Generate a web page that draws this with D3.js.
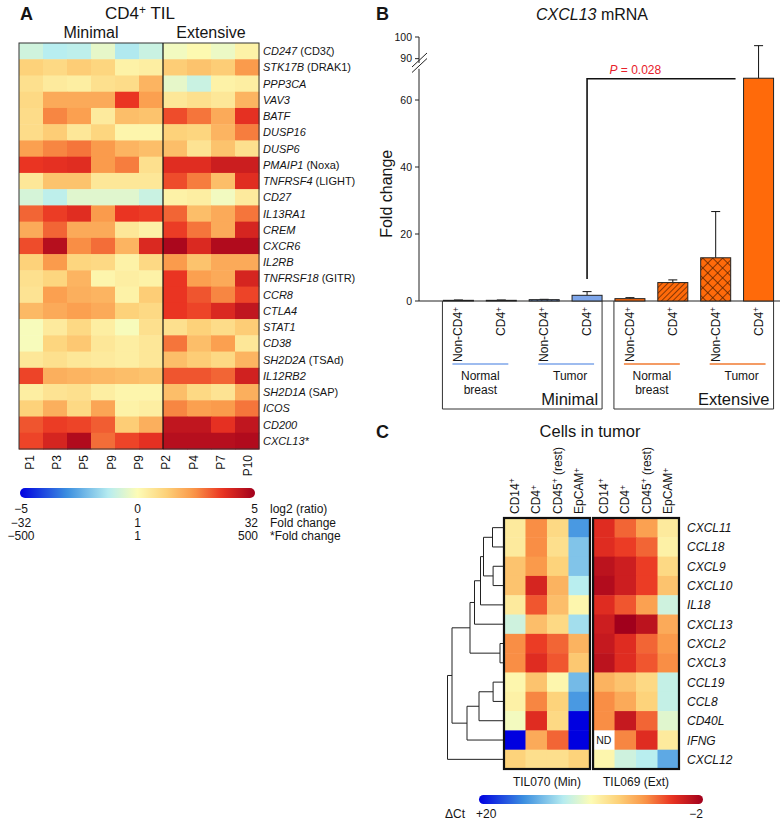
<!DOCTYPE html>
<html lang="en">
<head>
<meta charset="UTF-8" />
<title>CD4 TIL CXCL13</title>
<style>
  body { margin: 0; background: #fff; font-family: "Liberation Sans", Arial, Helvetica, sans-serif; }
  svg { display: block; }
  text { fill: #151515; }
  .it { font-style: italic; }
  .panel { font-size: 18px; font-weight: bold; }
</style>
</head>
<body>
<script src="https://cdn.jsdelivr.net/npm/d3@7/dist/d3.min.js"></script>
<script>
// ---------- panel A: CD4+ TIL log2 ratios ----------
const tilGenes = ["CD247", "STK17B", "PPP3CA", "VAV3", "BATF", "DUSP16", "DUSP6", "PMAIP1",
  "TNFRSF4", "CD27", "IL13RA1", "CREM", "CXCR6", "IL2RB", "TNFRSF18", "CCR8", "CTLA4",
  "STAT1", "CD38", "SH2D2A", "IL12RB2", "SH2D1A", "ICOS", "CD200", "CXCL13*"];
const tilAlias = ["(CD3ζ)", "(DRAK1)", "", "", "", "", "", "(Noxa)", "(LIGHT)", "", "", "", "",
  "", "(GITR)", "", "", "", "", "(TSAd)", "", "(SAP)", "", "", ""];
const tilPatients = ["P1", "P3", "P5", "P9", "P9", "P2", "P4", "P7", "P10"];
const tilGroups = ["Minimal", "Extensive"];
const tilGroupCols = [6, 4];
// 6 minimal columns then 4 extensive columns
const tilLog2 = [
  [-0.8, -1.2, -1.1, -0.4, -1.3, -0.9, -0.2, 0.1, -0.3, 0.3],
  [1.2, 1.0, 1.3, 1.1, 0.3, 0.4, 1.3, 1.5, 1.3, 2.3],
  [0.8, 0.5, 0.4, 0.8, 0.9, 1.8, -0.4, -0.9, 0.3, 0.4],
  [1.0, 2.0, 2.0, 2.0, 3.6, 2.2, 0.6, 0.8, 0.6, 1.8],
  [0.9, 2.6, 2.2, 0.5, 1.6, 1.5, 3.3, 2.8, 2.0, 3.7],
  [0.9, 1.3, 0.6, 1.1, 0.2, 0.2, 1.2, 1.1, 1.8, 2.7],
  [2.2, 2.6, 2.8, 2.3, 1.8, 1.6, 1.6, 0.7, 1.5, 0.8],
  [3.6, 3.7, 3.8, 2.3, 2.7, 0.8, 3.8, 3.8, 4.2, 4.2],
  [0.6, 1.5, 1.5, 0.6, 0.6, 0.6, 3.3, 2.7, 1.6, 3.8],
  [-0.7, -1.1, -0.5, -0.5, -0.5, -0.9, 0.3, 0.4, -0.2, 0.5],
  [3.0, 3.5, 3.8, 2.3, 3.6, 3.5, 3.0, 1.6, 2.0, 2.8],
  [2.0, 3.0, 2.0, 2.0, 0.6, 0.3, 3.5, 2.8, 2.0, 4.0],
  [3.3, 4.6, 2.5, 2.9, 1.8, 3.9, 4.8, 3.9, 4.7, 4.7],
  [1.2, 2.3, 1.1, 1.0, 0.3, 1.0, 2.3, 1.5, 2.0, 2.0],
  [0.8, 1.1, 1.8, 0.2, 0.4, 0.3, 3.6, 2.2, 2.0, 4.0],
  [0.7, 2.2, 1.9, 1.8, 0.3, 1.3, 3.6, 3.2, 2.6, 3.4],
  [1.7, 2.0, 2.2, 2.0, 1.2, 1.0, 3.6, 3.4, 3.9, 4.4],
  [-0.1, 0.5, 1.0, 0.4, -0.1, 0.8, 0.8, 1.2, 0.9, 1.3],
  [-0.1, 1.1, 1.4, 0.6, 0.4, 0.6, 2.8, 1.6, 2.2, 0.6],
  [0.6, 0.8, 0.6, 0.5, 0.4, 0.6, 1.6, 1.3, 1.0, 1.8],
  [3.4, 1.9, 1.8, 1.7, 1.6, 1.5, 3.2, 3.2, 3.0, 4.1],
  [0.4, 0.7, 0.8, 0.4, 0.2, 0.2, 1.6, 1.0, 0.7, 1.9],
  [1.2, 1.9, 1.0, 2.1, 0.3, 0.4, 2.6, 2.2, 2.3, 2.8],
  [3.2, 3.5, 3.4, 3.1, 1.3, 1.9, 4.4, 4.4, 3.7, 4.4],
  [3.4, 4.0, 4.7, 2.9, 3.4, 3.7, 4.6, 4.6, 4.6, 4.7]
];
const tilKeyTicks = [-5, 0, 5];
const tilKeyRows = [["−5", "0", "5"], ["−32", "1", "32"], ["−500", "1", "500"]];
const tilKeyNames = ["log2 (ratio)", "Fold change", "*Fold change"];

// ---------- panel B: CXCL13 mRNA ----------
const mrnaCell = ["Non-CD4+", "CD4+", "Non-CD4+", "CD4+", "Non-CD4+", "CD4+", "Non-CD4+", "CD4+"];
const mrnaTissue = ["Normal breast", "Normal breast", "Tumor", "Tumor", "Normal breast", "Normal breast", "Tumor", "Tumor"];
const mrnaGroup = ["Minimal", "Minimal", "Minimal", "Minimal", "Extensive", "Extensive", "Extensive", "Extensive"];
const mrnaFold = [0.2, 0.2, 0.4, 1.7, 0.7, 5.5, 12.9, 66.5];
const mrnaErr = [0.1, 0.1, 0.1, 1.1, 0.3, 0.8, 13.8, 29.5];
const foldTicksLow = [0, 20, 40, 60];
const foldTicksHigh = [90, 100];
const pText = "0.028";
const pPair = [3, 7];

// ---------- panel C: cells in tumor, ΔCt ----------
const chemoGenes = ["CXCL11", "CCL18", "CXCL9", "CXCL10", "IL18", "CXCL13", "CXCL2", "CXCL3",
  "CCL19", "CCL8", "CD40L", "IFNG", "CXCL12"];
const chemoCells = ["CD14+", "CD4+", "CD45+ (rest)", "EpCAM+"];
const chemoSamples = ["TIL070 (Min)", "TIL069 (Ext)"];
// 4 cells of TIL070 then 4 cells of TIL069; null = not detected
const chemoDct = [
  [7.9, 3.5, 6.8, 15.2, 0.6, 2.4, 4.2, 7.9],
  [7.9, 3.5, 7.2, 13.4, 0.6, 1.3, 2.4, 8.3],
  [5.7, 3.9, 6.4, 13.4, -0.9, -0.2, 1.3, 6.8],
  [5.7, 0.2, 5.0, 11.6, -1.3, -0.2, 1.3, 5.7],
  [7.9, 2.0, 5.5, 8.6, 0.6, 2.0, 4.2, 10.8],
  [10.8, 5.5, 6.8, 12.3, -0.2, -2.0, -0.9, 4.6],
  [3.5, 1.3, 2.4, 5.0, -0.5, 0.6, 2.4, 3.9],
  [3.5, 0.6, 2.0, 5.9, -0.9, 0.6, 2.0, 3.5],
  [8.6, 5.7, 8.6, 13.8, 5.0, 5.7, 6.8, 11.2],
  [8.3, 3.3, 6.4, 15.2, 3.5, 4.6, 6.4, 11.2],
  [9.4, 0.6, 6.8, 20.0, 3.5, -0.5, 2.4, 10.1],
  [20.0, 4.6, 2.4, 20.0, null, 3.3, 0.6, 7.9],
  [6.4, 7.2, 7.2, 6.4, 8.6, 10.8, 11.6, 14.5]
];
// linkage: [childA, childB, height]; ids >= 13 are earlier merges
const chemoLinks = [
  [0, 1, 3.5], [2, 3, 3.3], [13, 14, 6.5], [15, 4, 7.5], [16, 5, 9.5], [6, 7, 1.0],
  [17, 18, 11], [8, 9, 3.3], [20, 10, 8], [21, 11, 12], [19, 22, 17], [23, 12, 18.5]
];
const dctKeyTicks = [20, -2];

// ---------- shared colour ramp ----------
const ramp = d3.scaleLinear()
  .domain([0, 0.2, 0.38, 0.5, 0.62, 0.74, 0.86, 1])
  .range(["#0000e0", "#3c8fe0", "#b8eef0", "#fdfcb6", "#fdd27a", "#fa9648", "#ea3422", "#a1001c"]);

const svg = d3.select("body").append("svg").attr("width", 780).attr("height", 825);
const defs = svg.append("defs");

function writeSup(t, label) {
  const bits = label.split("+");
  let raised = false;
  bits.forEach((bit, i) => {
    if (i > 0) {
      t.append("tspan").attr("dy", "-0.4em").attr("font-size", "0.7em").text("+");
      raised = true;
    }
    if (bit) {
      t.append("tspan").attr("dy", raised ? "0.28em" : null).text(bit);
      raised = false;
    }
  });
}

function keyGradient(id, n) {
  const g = defs.append("linearGradient").attr("id", id);
  d3.range(n + 1).forEach(i => {
    g.append("stop").attr("offset", i / n).attr("stop-color", ramp(i / n));
  });
}
keyGradient("rampA", 40);

// ================= panel A =================
const ax = d3.scaleBand().domain(d3.range(10)).range([19, 259]);
const ay = d3.scaleBand().domain(tilGenes).range([43, 449]);
const aColor = d3.scaleLinear().domain([-5, 5]).range([0, 1]).clamp(true);

svg.append("text").attr("class", "panel").attr("x", 20).attr("y", 20).text("A");
const aTitle = svg.append("text").attr("x", 140).attr("y", 19)
  .attr("text-anchor", "middle").attr("font-size", 17);
writeSup(aTitle, "CD4+ TIL");

let colStart = 0;
tilGroups.forEach((g, gi) => {
  const x0 = ax(colStart), x1 = ax(colStart + tilGroupCols[gi] - 1) + ax.bandwidth();
  svg.append("text").attr("x", (x0 + x1) / 2).attr("y", 38)
    .attr("text-anchor", "middle").attr("font-size", 16).text(g);
  colStart += tilGroupCols[gi];
});

const aCells = svg.append("g");
tilLog2.forEach((row, ri) => {
  aCells.selectAll(null).data(row).join("rect")
    .attr("x", (d, ci) => ax(ci))
    .attr("y", ay(tilGenes[ri]))
    .attr("width", ax.bandwidth() + 0.5)
    .attr("height", ay.bandwidth() + 0.5)
    .attr("fill", d => ramp(aColor(d)));
});
svg.append("rect").attr("x", ax(0)).attr("y", 43)
  .attr("width", 240).attr("height", 406)
  .attr("fill", "none").attr("stroke", "#333").attr("stroke-width", 1);
svg.append("line")
  .attr("x1", ax(tilGroupCols[0])).attr("x2", ax(tilGroupCols[0]))
  .attr("y1", 43).attr("y2", 449).attr("stroke", "#111").attr("stroke-width", 1.2);

tilGenes.forEach((g, i) => {
  const t = svg.append("text").attr("x", 263)
    .attr("y", ay(g) + ay.bandwidth() / 2 + 4).attr("font-size", 11);
  t.append("tspan").attr("class", "it").text(g);
  if (tilAlias[i]) t.append("tspan").text(" " + tilAlias[i]);
});

const aPx = d3.scalePoint().domain(d3.range(tilPatients.length)).range([19, 259]).padding(0.4);
tilPatients.forEach((p, i) => {
  svg.append("text")
    .attr("transform", `translate(${aPx(i) + 4},455) rotate(-90)`)
    .attr("text-anchor", "end").attr("font-size", 12).text(p);
});

const aKey = d3.scaleLinear().domain([-5, 5]).range([20, 255]);
svg.append("rect").attr("x", aKey(-5)).attr("y", 488)
  .attr("width", aKey(5) - aKey(-5)).attr("height", 10)
  .attr("rx", 5).attr("fill", "url(#rampA)");
tilKeyRows.forEach((row, r) => {
  const y = 513 + r * 13.5;
  row.forEach((lab, i) => {
    const v = tilKeyTicks[i];
    svg.append("text")
      .attr("x", i === 2 ? aKey(v) + 3 : aKey(v) + (i === 0 ? 1 : 0))
      .attr("y", y).attr("font-size", 12)
      .attr("text-anchor", i === 2 ? "end" : "middle").text(lab);
  });
  svg.append("text").attr("x", 270).attr("y", y).attr("font-size", 12).text(tilKeyNames[r]);
});

// ================= panel B =================
const bx = d3.scaleBand().domain(d3.range(mrnaFold.length)).range([437, 780])
  .paddingInner(0.3).paddingOuter(0.15);
const by = d3.scaleLinear().domain([0, 70, 88, 100]).range([301, 66.5, 63, 37]);
const axisX = 419;

svg.append("text").attr("class", "panel").attr("x", 376).attr("y", 20).text("B");
const bTitle = svg.append("text").attr("x", 592).attr("y", 20)
  .attr("text-anchor", "middle").attr("font-size", 16);
bTitle.append("tspan").attr("class", "it").text("CXCL13");
bTitle.append("tspan").text(" mRNA");

svg.append("text")
  .attr("transform", `translate(392,${by(32)}) rotate(-90)`)
  .attr("text-anchor", "middle").attr("font-size", 16).text("Fold change");

// patterns
const tones = { Minimal: { fill: "#7ea6ea", ink: "#1d2d55" }, Extensive: { fill: "#ff6a0a", ink: "#4a1d00" } };
Object.entries(tones).forEach(([k, c]) => {
  const d = defs.append("pattern").attr("id", "diag-" + k).attr("patternUnits", "userSpaceOnUse")
    .attr("width", 4).attr("height", 4).attr("patternTransform", "rotate(45)");
  d.append("rect").attr("width", 4).attr("height", 4).attr("fill", c.fill);
  d.append("line").attr("x1", 0).attr("x2", 0).attr("y1", 0).attr("y2", 4)
    .attr("stroke", c.ink).attr("stroke-width", 1.3);
  const x = defs.append("pattern").attr("id", "cross-" + k).attr("patternUnits", "userSpaceOnUse")
    .attr("width", 7).attr("height", 7).attr("patternTransform", "rotate(45)");
  x.append("rect").attr("width", 7).attr("height", 7).attr("fill", c.fill);
  x.append("line").attr("x1", 0).attr("x2", 7).attr("y1", 0).attr("y2", 0)
    .attr("stroke", c.ink).attr("stroke-width", 1.4);
  x.append("line").attr("x1", 0).attr("x2", 0).attr("y1", 0).attr("y2", 7)
    .attr("stroke", c.ink).attr("stroke-width", 1.4);
});
function barFill(i) {
  const k = mrnaGroup[i];
  const normal = mrnaTissue[i] === "Normal breast";
  const cd4 = mrnaCell[i] === "CD4+";
  if (normal && cd4) return `url(#diag-${k})`;
  if (!normal && !cd4) return `url(#cross-${k})`;
  return tones[k].fill;
}

// axis
const bAxis = svg.append("g").attr("stroke", "#222").attr("stroke-width", 1);
bAxis.append("line").attr("x1", axisX).attr("x2", axisX).attr("y1", by(0)).attr("y2", by(69.3));
bAxis.append("line").attr("x1", axisX).attr("x2", axisX).attr("y1", by(88)).attr("y2", by(100));
[by(88) - 3, by(70) - 1].forEach(cy => {
  bAxis.append("line").attr("x1", axisX - 7).attr("x2", axisX + 8)
    .attr("y1", cy + 7).attr("y2", cy - 7);
});
foldTicksLow.concat(foldTicksHigh).forEach(v => {
  bAxis.append("line").attr("x1", axisX - 4).attr("x2", axisX).attr("y1", by(v)).attr("y2", by(v));
  svg.append("text").attr("x", axisX - 7).attr("y", by(v) + 3.5)
    .attr("text-anchor", "end").attr("font-size", 10.5).text(v);
});
bAxis.append("line").attr("x1", axisX).attr("x2", 780).attr("y1", by(0)).attr("y2", by(0));

// bars + error bars
mrnaFold.forEach((v, i) => {
  const cx = bx(i) + bx.bandwidth() / 2;
  svg.append("line").attr("x1", cx).attr("x2", cx)
    .attr("y1", by(v)).attr("y2", by(v + mrnaErr[i])).attr("stroke", "#111");
  svg.append("line").attr("x1", cx - 4.5).attr("x2", cx + 4.5)
    .attr("y1", by(v + mrnaErr[i])).attr("y2", by(v + mrnaErr[i])).attr("stroke", "#111");
  svg.append("rect").attr("x", bx(i)).attr("y", by(v))
    .attr("width", bx.bandwidth()).attr("height", by(0) - by(v))
    .attr("fill", barFill(i)).attr("stroke", "#222").attr("stroke-width", 1);
  const t = svg.append("text")
    .attr("transform", `translate(${cx + 4},307) rotate(-90)`)
    .attr("text-anchor", "end").attr("font-size", 12);
  writeSup(t, mrnaCell[i]);
});

// significance bracket
const bxA = bx(pPair[0]) + bx.bandwidth() / 2;
const bxB = bx(pPair[1]) - 8;
const bTop = by(mrnaFold[pPair[1]]) + 0.5;
svg.append("path")
  .attr("d", `M${bxA},${by(6.6)}V${bTop}H${bxB}`)
  .attr("fill", "none").attr("stroke", "#111").attr("stroke-width", 1.6);
const pLab = svg.append("text").attr("x", (bxA + bxB) / 2 - 26).attr("y", bTop - 5)
  .attr("text-anchor", "middle").attr("font-size", 12);
pLab.append("tspan").attr("class", "it").attr("fill", "#e8202a").text("P");
pLab.append("tspan").attr("fill", "#e8202a").text(" = " + pText);

// group boxes and tissue lines
tilGroups.forEach(g => {
  const idx = d3.range(mrnaGroup.length).filter(i => mrnaGroup[i] === g);
  const x0 = bx(idx[0]) - 1, x1 = bx(idx[idx.length - 1]) + bx.bandwidth();
  svg.append("path").attr("d", `M${x0},${by(0)}V409H${x1}V${by(0)}`)
    .attr("fill", "none").attr("stroke", "#333").attr("stroke-width", 1);
  svg.append("text").attr("x", x1 - 4).attr("y", 405)
    .attr("text-anchor", "end").attr("font-size", 16.5).text(g);
  const tissues = Array.from(new Set(idx.map(i => mrnaTissue[i])));
  tissues.forEach(ts => {
    const ti = idx.filter(i => mrnaTissue[i] === ts);
    const l0 = bx(ti[0]) + 9, l1 = bx(ti[ti.length - 1]) + bx.bandwidth() - 8;
    svg.append("line").attr("x1", l0).attr("x2", l1).attr("y1", 364).attr("y2", 364)
      .attr("stroke", g === "Minimal" ? "#7ea6ea" : "#f07a30").attr("stroke-width", 1.6);
    const words = ts.split(" ");
    words.forEach((w, wi) => {
      svg.append("text").attr("x", (l0 + l1) / 2 + (ts === "Tumor" ? 4 : 0))
        .attr("y", 380 + wi * 13.5).attr("text-anchor", "middle")
        .attr("font-size", 12).text(w);
    });
  });
});

// ================= panel C =================
keyGradient("rampC", 40);
const cx0 = d3.scaleBand().domain(chemoSamples).range([504, 679]).paddingInner(0.035);
const cx1 = d3.scaleBand().domain(chemoCells).range([0, cx0.bandwidth()]);
const cy = d3.scaleBand().domain(chemoGenes).range([518, 769]);
const cColor = d3.scaleLinear().domain([20, -2]).range([0, 1]).clamp(true);

svg.append("text").attr("class", "panel").attr("x", 376).attr("y", 438).text("C");
svg.append("text").attr("x", 590).attr("y", 437).attr("text-anchor", "middle")
  .attr("font-size", 16.5).text("Cells in tumor");

chemoDct.forEach((row, ri) => {
  row.forEach((v, k) => {
    const s = chemoSamples[Math.floor(k / chemoCells.length)];
    const c = chemoCells[k % chemoCells.length];
    const x = cx0(s) + cx1(c);
    svg.append("rect").attr("x", x).attr("y", cy(chemoGenes[ri]))
      .attr("width", cx1.bandwidth() + 0.5).attr("height", cy.bandwidth() + 0.5)
      .attr("fill", v === null ? "#fff" : ramp(cColor(v)));
    if (v === null) {
      svg.append("text").attr("x", x + cx1.bandwidth() / 2)
        .attr("y", cy(chemoGenes[ri]) + cy.bandwidth() / 2 + 4)
        .attr("text-anchor", "middle").attr("font-size", 10.5).text("ND");
    }
  });
});
chemoSamples.forEach(s => {
  svg.append("rect").attr("x", cx0(s)).attr("y", 518)
    .attr("width", cx0.bandwidth()).attr("height", 251)
    .attr("fill", "none").attr("stroke", "#111").attr("stroke-width", 2.2);
  svg.append("text").attr("x", cx0(s) + cx0.bandwidth() / 2).attr("y", 786)
    .attr("text-anchor", "middle").attr("font-size", 12).text(s);
  chemoCells.forEach(c => {
    const t = svg.append("text")
      .attr("transform", `translate(${cx0(s) + cx1(c) + cx1.bandwidth() / 2 + 4},514) rotate(-90)`)
      .attr("font-size", 12);
    writeSup(t, c);
  });
});
chemoGenes.forEach(g => {
  svg.append("text").attr("class", "it").attr("x", 687)
    .attr("y", cy(g) + cy.bandwidth() / 2 + 4.5).attr("font-size", 12).text(g);
});

// dendrogram
const dx = d3.scaleLinear().domain([0, 18.5]).range([503, 447.5]);
const nodeY = chemoGenes.map(g => cy(g) + cy.bandwidth() / 2);
const nodeH = chemoGenes.map(() => 0);
const dendro = svg.append("g").attr("fill", "none").attr("stroke", "#222").attr("stroke-width", 1);
chemoLinks.forEach(([a, b, h]) => {
  dendro.append("path")
    .attr("d", `M${dx(nodeH[a])},${nodeY[a]}H${dx(h)}V${nodeY[b]}H${dx(nodeH[b])}`);
  nodeY.push((nodeY[a] + nodeY[b]) / 2);
  nodeH.push(h);
});

// ΔCt key
const cKey = d3.scaleLinear().domain([20, -2]).range([479, 703]);
svg.append("rect").attr("x", cKey(20)).attr("y", 795)
  .attr("width", cKey(-2) - cKey(20)).attr("height", 9)
  .attr("rx", 4.5).attr("fill", "url(#rampC)");
svg.append("text").attr("x", 445).attr("y", 818).attr("font-size", 12).text("ΔCt");
svg.append("text").attr("x", cKey(dctKeyTicks[0]) - 3).attr("y", 818).attr("font-size", 12).text("+20");
svg.append("text").attr("x", cKey(dctKeyTicks[1])).attr("y", 818)
  .attr("text-anchor", "end").attr("font-size", 12).text("−2");
</script>
</body>
</html>
